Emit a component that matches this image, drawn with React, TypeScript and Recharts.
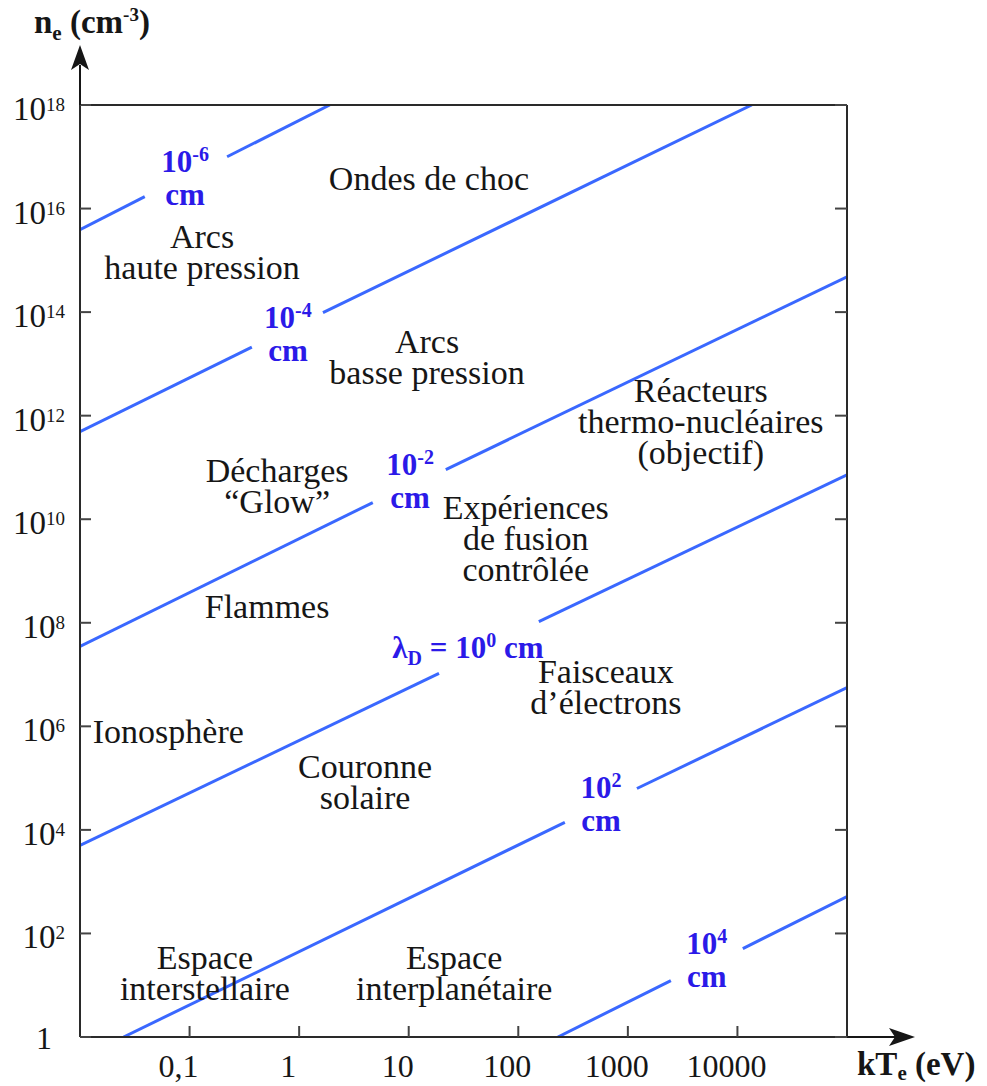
import { LineChart, Line, XAxis, YAxis, ReferenceDot } from 'recharts'

const SERIF = "'Liberation Serif', 'DejaVu Serif', 'Times New Roman', serif"
const LINE_BLUE = '#3a68ff'
const LABEL_BLUE = '#2b1ae8'
const INK = '#161616'

const X_TICKS = [0.1, 1, 10, 100, 1000, 10000]
const X_TICK_LABELS = ['0,1', '1', '10', '100', '1000', '10000']
const Y_TICKS = [1, 1e2, 1e4, 1e6, 1e8, 1e10, 1e12, 1e14, 1e16, 1e18]
const Y_EXPONENTS = ['0', '2', '4', '6', '8', '10', '12', '14', '16', '18']

// Debye length lines, kTe (eV) vs ne (cm-3); each is broken where its label sits
const LAMBDA_1E_6 = [
  [{ T: 0.01, n: 3.9e15 }, { T: 0.039, n: 1.7e16 }],
  [{ T: 0.22, n: 1e17 }, { T: 1.9, n: 1e18 }],
]
const LAMBDA_1E_4 = [
  [{ T: 0.01, n: 4.9e11 }, { T: 0.37, n: 2.1e13 }],
  [{ T: 1.65, n: 9.8e13 }, { T: 13500, n: 1e18 }],
]
const LAMBDA_1E_2 = [
  [{ T: 0.01, n: 3.5e7 }, { T: 4.7, n: 2.1e10 }],
  [{ T: 21.8, n: 9.1e10 }, { T: 1e5, n: 4.8e14 }],
]
const LAMBDA_1E0 = [
  [{ T: 0.01, n: 5000 }, { T: 18.9, n: 1.05e7 }],
  [{ T: 154, n: 1.05e8 }, { T: 1e5, n: 7.2e10 }],
]
const LAMBDA_1E2 = [
  [{ T: 0.025, n: 1 }, { T: 266, n: 1.4e4 }],
  [{ T: 1210, n: 6.3e4 }, { T: 1e5, n: 5.6e6 }],
]
const LAMBDA_1E4 = [
  [{ T: 230, n: 1 }, { T: 2470, n: 12.3 }],
  [{ T: 11200, n: 51 }, { T: 1e5, n: 513 }],
]
const SEGMENTS = [LAMBDA_1E_6, LAMBDA_1E_4, LAMBDA_1E_2, LAMBDA_1E0, LAMBDA_1E2, LAMBDA_1E4].flat()

// labels on the lines
const DEBYE_LABELS = [
  { T: 0.091, n: 3.9e16, exp: '-6' },
  { T: 0.79, n: 3.8e13, exp: '-4' },
  { T: 10.3, n: 5.5e10, exp: '-2' },
  { T: 568, n: 3.2e4, exp: '2' },
  { T: 5260, n: 31, exp: '4' },
]
const MAIN_LABEL = { T: 34.7, n: 3.3e7 }

// plasma regions
const REGIONS = [
  { T: 15.3, n: 3.9e16, lines: ['Ondes de choc'] },
  { T: 0.13, n: 1.45e15, lines: ['Arcs', 'haute pression'] },
  { T: 14.7, n: 1.4e13, lines: ['Arcs', 'basse pression'] },
  { T: 4630, n: 8e11, lines: ['Réacteurs', 'thermo-nucléaires', '(objectif)'] },
  { T: 0.63, n: 4.4e10, lines: ['Décharges', '“Glow”'] },
  { T: 117, n: 4.4e9, lines: ['Expériences', 'de fusion', 'contrôlée'] },
  { T: 0.51, n: 2.1e8, lines: ['Flammes'] },
  { T: 630, n: 5.8e6, lines: ['Faisceaux', 'd’électrons'] },
  { T: 0.064, n: 8.3e5, lines: ['Ionosphère'] },
  { T: 4.0, n: 8.5e4, lines: ['Couronne', 'solaire'] },
  { T: 0.138, n: 17.6, lines: ['Espace', 'interstellaire'] },
  { T: 26, n: 17.6, lines: ['Espace', 'interplanétaire'] },
]

const LINE_H = 31

const regionLabel = (lines: string[]) => (props: any) => {
  const { x, y } = props.viewBox
  return (
    <g>
      {lines.map((l, i) => (
        <text
          key={i}
          x={x}
          y={y + (i - (lines.length - 1) / 2) * LINE_H + 12}
          textAnchor="middle"
          fontFamily={SERIF}
          fontSize={34}
          fill={INK}
        >
          {l}
        </text>
      ))}
    </g>
  )
}

const debyeLabel = (exp: string) => (props: any) => {
  const { x, y } = props.viewBox
  const style = { fontFamily: SERIF, fontWeight: 'bold' as const, fill: LABEL_BLUE }
  return (
    <g>
      <text x={x} y={y - 6} textAnchor="middle" fontSize={31} style={style}>
        10<tspan dy={-11} fontSize={20}>{exp}</tspan>
      </text>
      <text x={x} y={y + 27} textAnchor="middle" fontSize={31} style={style}>cm</text>
    </g>
  )
}

const mainLabel = (props: any) => {
  const { x, y } = props.viewBox
  return (
    <text x={x} y={y + 10} textAnchor="middle" fontFamily={SERIF} fontWeight="bold" fontSize={31} fill={LABEL_BLUE}>
      λ<tspan dy={7} fontSize={20}>D</tspan>
      <tspan dy={-7}> = 10</tspan>
      <tspan dy={-11} fontSize={20}>0</tspan>
      <tspan dy={11}> cm</tspan>
    </text>
  )
}

const XTick = (props: any) => (
  <text x={props.x - 11} y={props.y} textAnchor="middle" fontFamily={SERIF} fontSize={32} fill={INK}>
    {X_TICK_LABELS[props.index]}
  </text>
)

const YTick = (props: any) => {
  const e = Y_EXPONENTS[props.index]
  if (e === '0') {
    return (
      <text x={props.x - 20} y={props.y + 12} textAnchor="middle" fontFamily={SERIF} fontSize={32} fill={INK}>1</text>
    )
  }
  return (
    <text x={props.x + 1} y={props.y + 15} textAnchor="end" fontFamily={SERIF} fontSize={33} fill={INK}>
      10<tspan dy={-9} fontSize={19}>{e}</tspan>
    </text>
  )
}

const NoTick = () => <g />

// y axis arrow + title
const yAxisDecor = (props: any) => {
  const { x, y, width } = props.viewBox
  const ax = x + width
  return (
    <g>
      <line x1={ax} y1={y} x2={ax} y2={y - 40} stroke={INK} strokeWidth={2} />
      <polygon points={`${ax},${y - 60} ${ax + 9},${y - 35} ${ax},${y - 41} ${ax - 9},${y - 35}`} fill={INK} />
      <text x={34} y={33} fontFamily={SERIF} fontWeight="bold" fontSize={33} fill={INK}>
        n<tspan dy={7} fontSize={21}>e</tspan>
        <tspan dy={-7}> (cm</tspan>
        <tspan dy={-12} fontSize={19}>-3</tspan>
        <tspan dy={12}>)</tspan>
      </text>
    </g>
  )
}

// x axis arrow + title
const xAxisDecor = (props: any) => {
  const { x, y, width } = props.viewBox
  const right = x + width
  return (
    <g>
      <line x1={right} y1={y} x2={right + 48} y2={y} stroke={INK} strokeWidth={2} />
      <polygon points={`${right + 68},${y} ${right + 42},${y - 9} ${right + 48},${y} ${right + 42},${y + 9}`} fill={INK} />
      <text x={857} y={1075} fontFamily={SERIF} fontWeight="bold" fontSize={33} fill={INK}>
        kT<tspan dy={5} fontSize={21}>e</tspan>
        <tspan dy={-5}> (eV)</tspan>
      </text>
    </g>
  )
}

const axisLine = { stroke: '#2a2a2a', strokeWidth: 2 }
const tickLine = { stroke: '#444', strokeWidth: 2 }

export default function App() {
  return (
    <div style={{ position: 'absolute', left: 0, top: 0, background: '#fff' }}>
      <LineChart width={987} height={1086} margin={{ top: 75, right: 80, bottom: 0, left: 0 }}>
        <XAxis
          xAxisId={0}
          dataKey="T"
          type="number"
          scale="log"
          domain={[0.01, 100000]}
          allowDataOverflow
          ticks={X_TICKS}
          height={49}
          axisLine={axisLine}
          tickLine={tickLine}
          tickSize={-11}
          tickMargin={51}
          tick={XTick}
          interval={0}
          label={xAxisDecor}
        />
        <XAxis
          xAxisId="top"
          orientation="top"
          type="number"
          scale="log"
          domain={[0.01, 100000]}
          allowDataOverflow
          ticks={X_TICKS}
          height={30}
          axisLine={axisLine}
          tickLine={tickLine}
          tickSize={-11}
          tick={NoTick}
          interval={0}
        />
        <YAxis
          yAxisId={0}
          type="number"
          scale="log"
          domain={[1, 1e18]}
          allowDataOverflow
          ticks={Y_TICKS}
          width={80}
          axisLine={axisLine}
          tickLine={tickLine}
          tickSize={-11}
          tickMargin={27}
          tick={YTick}
          interval={0}
          label={yAxisDecor}
        />
        <YAxis
          yAxisId="right"
          orientation="right"
          type="number"
          scale="log"
          domain={[1, 1e18]}
          allowDataOverflow
          ticks={Y_TICKS}
          width={60}
          axisLine={axisLine}
          tickLine={tickLine}
          tickSize={-12}
          tick={NoTick}
          interval={0}
        />
        {SEGMENTS.map((seg, i) => (
          <Line
            key={i}
            data={seg}
            dataKey="n"
            type="linear"
            stroke={LINE_BLUE}
            strokeWidth={3}
            dot={false}
            activeDot={false}
            isAnimationActive={false}
          />
        ))}
        {REGIONS.map((r, i) => (
          <ReferenceDot key={`r${i}`} x={r.T} y={r.n} r={0} fill="none" stroke="none" label={regionLabel(r.lines)} />
        ))}
        {DEBYE_LABELS.map((d, i) => (
          <ReferenceDot key={`d${i}`} x={d.T} y={d.n} r={0} fill="none" stroke="none" label={debyeLabel(d.exp)} />
        ))}
        <ReferenceDot x={MAIN_LABEL.T} y={MAIN_LABEL.n} r={0} fill="none" stroke="none" label={mainLabel} />
      </LineChart>
    </div>
  )
}
